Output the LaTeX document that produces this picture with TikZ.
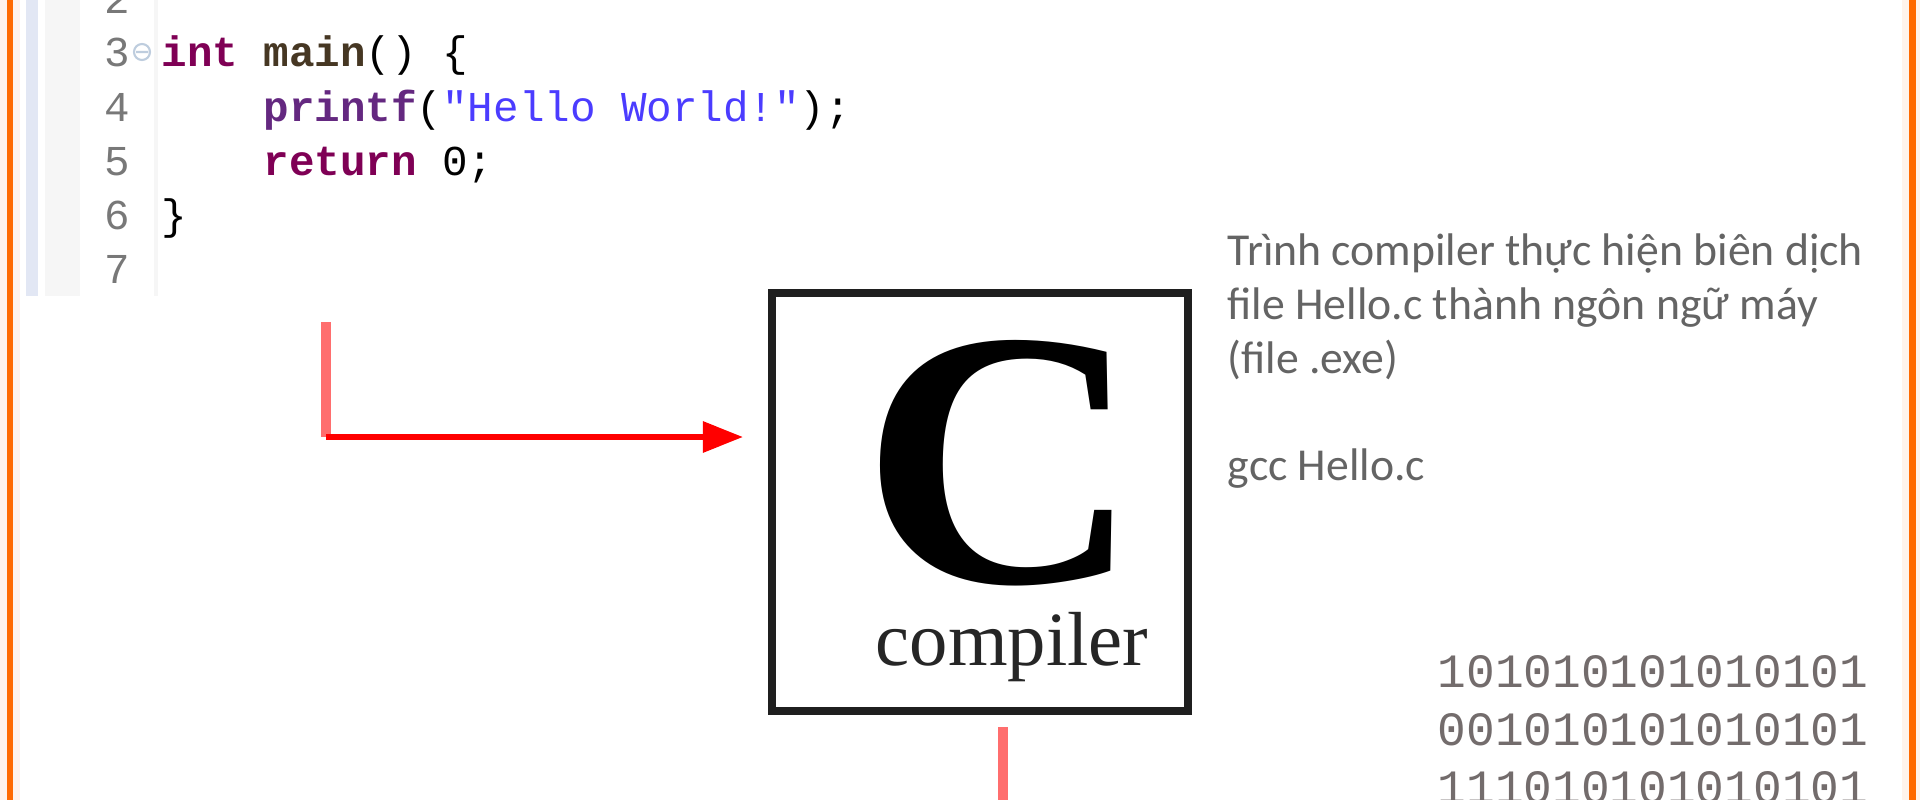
\documentclass[tikz,border=0pt]{standalone}
\usepackage{fontspec}
\setmainfont{Liberation Serif}
\setmonofont{Liberation Mono}
\newfontfamily\descfont{Carlito}
\usetikzlibrary{arrows.meta}
\definecolor{frameorange}{RGB}{255,106,0}
\definecolor{kwpurple}{RGB}{127,0,85}
\definecolor{fnpurple}{RGB}{100,40,128}
\definecolor{strblue}{RGB}{75,60,255}
\definecolor{mainbrown}{RGB}{70,55,35}
\definecolor{numgray}{RGB}{120,120,120}
\definecolor{descgray}{RGB}{100,100,100}
\definecolor{bitgray}{RGB}{115,108,108}
\definecolor{palered}{RGB}{255,110,110}
\definecolor{gutterblue}{RGB}{226,231,244}
\definecolor{guttergray}{RGB}{246,246,246}
\definecolor{foldblue}{RGB}{190,205,222}

\begin{document}
\begin{tikzpicture}[x=0.01cm,y=-0.01cm,
  code/.style={font=\ttfamily\fontsize{12.1}{14}\selectfont,inner sep=0pt,anchor=base west},
  linenum/.style={code,text=numgray},
  desc/.style={font=\descfont\fontsize{13}{15}\selectfont,text=descgray,inner sep=0pt,anchor=base west},
  bits/.style={font=\ttfamily\fontsize{13.6}{16}\selectfont,text=bitgray,inner sep=0pt,anchor=base west},
  paleline/.style={draw=palered,line width=2.8pt},
  redarrow/.style={draw=red,line width=1.7pt,-{Triangle[length=0.4cm,width=0.3cm]}}]
    \useasboundingbox (0,0) rectangle (1920,800);
    \clip (0,0) rectangle (1920,800);
    \fill[white] (0,0) rectangle (1920,800);

    \fill[frameorange!8] (0,0) rectangle (20,800);
    \fill[frameorange!8] (1902,0) rectangle (1920,800);
    \fill[frameorange] (7,0) rectangle (13,800);
    \fill[frameorange] (1909,0) rectangle (1916,800);

    \fill[gutterblue] (26,-5) rectangle (38,296);
    \fill[guttergray] (45,-5) rectangle (80,296);
    \draw[guttergray,line width=1pt] (156,-5) -- (156,296);

    \node[linenum] (n2) at (104,13) {2};
    \node[linenum] (n3) at (104,67) {3};
    \node[linenum] (n4) at (104,121) {4};
    \node[linenum] (n5) at (104,175) {5};
    \node[linenum] (n6) at (104,229) {6};
    \node[linenum] (n7) at (104,283) {7};
    \draw[foldblue,line width=0.6pt] (142,52) circle [radius=0.08cm] (136,52) -- (148,52);

    \node[code] (c3) at (161,67) {\textcolor{kwpurple}{\bfseries int} \textcolor{mainbrown}{\bfseries main}() \{};
    \node[code] (c4) at (263,121) {\textcolor{fnpurple}{\bfseries printf}(\textcolor{strblue}{"Hello World!"});};
    \node[code] (c5) at (263,175) {\textcolor{kwpurple}{\bfseries return} 0;};
    \node[code] (c6) at (161,229) {\}};

    \node[draw=black!88,line width=2.3pt,minimum width=4.16cm,minimum height=4.18cm,inner sep=0pt] (cbox) at (980,502) {};
    \node[font=\bfseries\fontsize{104}{104}\selectfont,inner sep=0pt,anchor=base] (cletter) at (1001,582) {\scalebox{1.06}[1]{C}};
    \node[font=\fontsize{21.8}{23}\selectfont,text=black!85,inner sep=0pt,anchor=base west] (clabel) at (875,665) {compiler};

    \node[desc] (d1) at (1227,265) {Trình compiler thực hiện biên dịch};
    \node[desc] (d2) at (1227,319) {file Hello.c thành ngôn ngữ máy};
    \node[desc] (d3) at (1227,373) {(file .exe)};
    \node[desc] (d4) at (1227,480) {gcc Hello.c};

    \node[bits] (b1) at (1437,687) {101010101010101};
    \node[bits] (b2) at (1437,745) {001010101010101};
    \node[bits] (b3) at (1437,803) {111010101010101};

    \coordinate (src) at (326,322);
    \coordinate (bend) at (326,437);
    \coordinate (tocomp) at (743,437);
    \coordinate (fromcomp) at (1003,727);
    \coordinate (down) at (1003,810);

    \draw[paleline] (src) -- (bend);
    \draw[redarrow] (bend) -- (tocomp);
    \draw[paleline] (fromcomp) -- (down);
\end{tikzpicture}
\end{document}
